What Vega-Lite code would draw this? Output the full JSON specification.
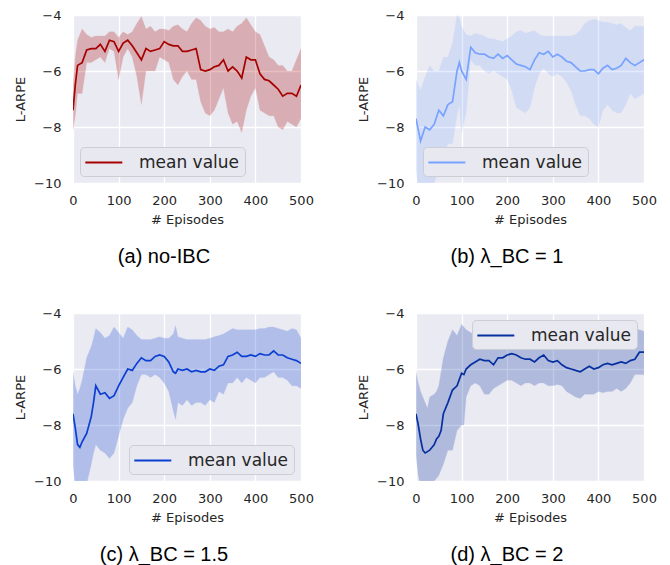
{
  "$schema": "https://vega.github.io/schema/vega-lite/v6.json",
  "background": "white",
  "padding": {"left": 14, "top": 9, "right": 5, "bottom": 2},
  "config": {
    "view": {"fill": "#EAEAF2", "stroke": null},
    "axis": {"grid": true, "gridColor": "white", "gridWidth": 1.3, "domain": false, "ticks": false, "labelFlush": false, "labelFont": "DejaVu Sans", "labelFontSize": 13, "labelColor": "#262626", "titleFont": "DejaVu Sans", "titleFontSize": 13, "titleFontWeight": "normal", "titleColor": "#262626"},
    "axisX": {"labelPadding": 11, "titlePadding": 6},
    "axisY": {"labelPadding": 12, "titlePadding": 6},
    "legend": {"title": null, "symbolType": "M-1.1,0H2.9", "symbolSize": 342, "symbolStrokeWidth": 2, "labelFontSize": 17, "labelFont": "DejaVu Sans", "labelColor": "#262626", "padding": 5, "fillColor": "#E8E8F0", "strokeColor": "#CDCDD5", "cornerRadius": 4, "labelOffset": 33, "offset": 7},
    "title": {"font": "Liberation Sans", "fontSize": 20, "fontWeight": "normal", "color": "black", "orient": "bottom", "anchor": "middle", "frame": "bounds", "offset": 21}
  },
  "datasets": {
    "a": [
      {"x":0,"m":-7.4,"lo":-8.1,"hi":-6.5},{"x":5,"m":-6.5,"lo":-7.6,"hi":-5.5},{"x":10,"m":-5.8,"lo":-6.8,"hi":-4.9},{"x":20,"m":-5.7,"lo":-6.8,"hi":-4.5},{"x":30,"m":-5.25,"lo":-5.7,"hi":-4.7},{"x":40,"m":-5.2,"lo":-5.7,"hi":-4.8},{"x":50,"m":-5.2,"lo":-5.6,"hi":-4.75},{"x":60,"m":-5.05,"lo":-5.5,"hi":-4.75},{"x":70,"m":-5.3,"lo":-5.7,"hi":-4.75},{"x":80,"m":-4.9,"lo":-5.2,"hi":-4.6},{"x":90,"m":-4.95,"lo":-5.3,"hi":-4.6},{"x":100,"m":-5.3,"lo":-6.3,"hi":-4.8},{"x":110,"m":-5.0,"lo":-5.5,"hi":-4.6},{"x":120,"m":-4.9,"lo":-5.2,"hi":-4.7},{"x":130,"m":-5.1,"lo":-5.5,"hi":-4.6},{"x":140,"m":-5.35,"lo":-6.2,"hi":-4.3},{"x":150,"m":-5.6,"lo":-7.2,"hi":-4.05},{"x":160,"m":-5.2,"lo":-6.0,"hi":-4.5},{"x":170,"m":-5.3,"lo":-6.0,"hi":-4.4},{"x":180,"m":-5.25,"lo":-6.0,"hi":-4.6},{"x":190,"m":-5.2,"lo":-5.5,"hi":-4.5},{"x":200,"m":-4.95,"lo":-5.6,"hi":-4.5},{"x":210,"m":-5.05,"lo":-5.7,"hi":-4.55},{"x":220,"m":-5.1,"lo":-6.3,"hi":-4.4},{"x":230,"m":-5.1,"lo":-6.5,"hi":-4.35},{"x":240,"m":-5.3,"lo":-6.2,"hi":-4.5},{"x":250,"m":-5.3,"lo":-6.0,"hi":-4.6},{"x":260,"m":-5.25,"lo":-6.3,"hi":-4.3},{"x":270,"m":-5.2,"lo":-6.3,"hi":-4.1},{"x":280,"m":-5.95,"lo":-7.1,"hi":-4.2},{"x":290,"m":-6.0,"lo":-7.5,"hi":-4.4},{"x":300,"m":-5.95,"lo":-7.6,"hi":-4.5},{"x":310,"m":-5.85,"lo":-7.4,"hi":-4.45},{"x":320,"m":-5.8,"lo":-7.0,"hi":-4.6},{"x":330,"m":-5.6,"lo":-6.6,"hi":-4.6},{"x":340,"m":-6.0,"lo":-7.5,"hi":-4.5},{"x":350,"m":-5.85,"lo":-7.9,"hi":-4.6},{"x":360,"m":-6.0,"lo":-7.8,"hi":-4.4},{"x":370,"m":-6.25,"lo":-8.2,"hi":-4.3},{"x":380,"m":-5.5,"lo":-7.4,"hi":-4.1},{"x":390,"m":-5.6,"lo":-6.9,"hi":-4.35},{"x":400,"m":-5.6,"lo":-6.6,"hi":-4.6},{"x":410,"m":-6.1,"lo":-7.4,"hi":-4.7},{"x":420,"m":-6.3,"lo":-7.5,"hi":-5.1},{"x":430,"m":-6.35,"lo":-7.6,"hi":-5.5},{"x":440,"m":-6.5,"lo":-7.6,"hi":-5.6},{"x":450,"m":-6.65,"lo":-8.0,"hi":-5.8},{"x":460,"m":-6.9,"lo":-8.1,"hi":-5.8},{"x":470,"m":-6.8,"lo":-7.8,"hi":-6.0},{"x":480,"m":-6.8,"lo":-7.9,"hi":-6.0},{"x":490,"m":-6.9,"lo":-8.0,"hi":-5.6},{"x":500,"m":-6.5,"lo":-7.7,"hi":-5.2}
    ],
    "b": [
      {"x":0,"m":-7.7,"lo":-9.5,"hi":-6.3},{"x":5,"m":-8.1,"lo":-10.2,"hi":-6.5},{"x":10,"m":-8.5,"lo":-10.4,"hi":-6.7},{"x":20,"m":-8.0,"lo":-10.3,"hi":-6.2},{"x":30,"m":-8.1,"lo":-10.4,"hi":-5.8},{"x":40,"m":-7.9,"lo":-10.0,"hi":-6.0},{"x":50,"m":-7.4,"lo":-9.5,"hi":-6.0},{"x":60,"m":-7.6,"lo":-9.0,"hi":-5.5},{"x":70,"m":-7.2,"lo":-8.6,"hi":-5.5},{"x":80,"m":-7.1,"lo":-8.6,"hi":-5.0},{"x":90,"m":-6.0,"lo":-7.6,"hi":-4.0},{"x":95,"m":-5.7,"lo":-7.2,"hi":-4.1},{"x":100,"m":-6.0,"lo":-8.2,"hi":-4.4},{"x":110,"m":-6.3,"lo":-7.5,"hi":-4.7},{"x":120,"m":-5.15,"lo":-5.6,"hi":-4.75},{"x":130,"m":-5.35,"lo":-5.8,"hi":-4.65},{"x":140,"m":-5.4,"lo":-5.8,"hi":-4.7},{"x":150,"m":-5.4,"lo":-6.0,"hi":-4.75},{"x":160,"m":-5.5,"lo":-6.1,"hi":-4.85},{"x":170,"m":-5.55,"lo":-6.0,"hi":-4.85},{"x":180,"m":-5.4,"lo":-6.1,"hi":-4.9},{"x":190,"m":-5.55,"lo":-6.2,"hi":-4.95},{"x":200,"m":-5.45,"lo":-6.3,"hi":-4.85},{"x":210,"m":-5.6,"lo":-6.7,"hi":-4.75},{"x":220,"m":-5.75,"lo":-7.3,"hi":-4.6},{"x":230,"m":-5.8,"lo":-7.4,"hi":-4.55},{"x":240,"m":-5.85,"lo":-7.5,"hi":-4.65},{"x":250,"m":-5.95,"lo":-7.3,"hi":-4.6},{"x":260,"m":-5.6,"lo":-6.6,"hi":-4.55},{"x":270,"m":-5.35,"lo":-6.1,"hi":-4.7},{"x":280,"m":-5.4,"lo":-5.9,"hi":-4.75},{"x":290,"m":-5.3,"lo":-6.1,"hi":-4.75},{"x":300,"m":-5.5,"lo":-6.2,"hi":-4.75},{"x":310,"m":-5.4,"lo":-6.1,"hi":-4.75},{"x":320,"m":-5.5,"lo":-6.2,"hi":-4.75},{"x":330,"m":-5.65,"lo":-6.4,"hi":-4.75},{"x":340,"m":-5.7,"lo":-6.7,"hi":-4.75},{"x":350,"m":-5.85,"lo":-7.2,"hi":-4.7},{"x":360,"m":-6.0,"lo":-7.6,"hi":-4.55},{"x":370,"m":-6.0,"lo":-7.6,"hi":-4.3},{"x":380,"m":-5.95,"lo":-7.7,"hi":-4.2},{"x":390,"m":-5.95,"lo":-7.9,"hi":-4.15},{"x":400,"m":-6.1,"lo":-8.0,"hi":-4.2},{"x":410,"m":-5.9,"lo":-7.4,"hi":-4.25},{"x":420,"m":-5.8,"lo":-7.2,"hi":-4.25},{"x":430,"m":-5.95,"lo":-7.4,"hi":-4.3},{"x":440,"m":-5.9,"lo":-7.5,"hi":-4.35},{"x":450,"m":-5.8,"lo":-7.5,"hi":-4.3},{"x":460,"m":-5.55,"lo":-7.2,"hi":-4.45},{"x":470,"m":-5.7,"lo":-6.8,"hi":-4.55},{"x":480,"m":-5.8,"lo":-7.0,"hi":-4.4},{"x":490,"m":-5.7,"lo":-6.9,"hi":-4.4},{"x":500,"m":-5.6,"lo":-6.8,"hi":-4.4}
    ],
    "c": [
      {"x":0,"m":-7.6,"lo":-9.4,"hi":-6.1},{"x":5,"m":-8.1,"lo":-10.2,"hi":-6.6},{"x":10,"m":-8.7,"lo":-10.6,"hi":-6.9},{"x":15,"m":-8.8,"lo":-10.5,"hi":-6.7},{"x":20,"m":-8.6,"lo":-10.4,"hi":-6.4},{"x":30,"m":-8.3,"lo":-10.1,"hi":-5.6},{"x":40,"m":-7.7,"lo":-9.4,"hi":-5.2},{"x":45,"m":-7.2,"lo":-9.0,"hi":-4.9},{"x":50,"m":-6.6,"lo":-8.7,"hi":-4.55},{"x":60,"m":-6.9,"lo":-8.9,"hi":-4.7},{"x":70,"m":-6.85,"lo":-9.0,"hi":-4.9},{"x":80,"m":-7.05,"lo":-9.2,"hi":-4.8},{"x":90,"m":-6.95,"lo":-9.0,"hi":-4.5},{"x":100,"m":-6.6,"lo":-8.4,"hi":-4.7},{"x":110,"m":-6.3,"lo":-7.8,"hi":-4.9},{"x":120,"m":-6.0,"lo":-7.4,"hi":-4.5},{"x":130,"m":-6.05,"lo":-7.2,"hi":-4.6},{"x":140,"m":-5.8,"lo":-6.6,"hi":-4.8},{"x":150,"m":-5.6,"lo":-6.2,"hi":-4.95},{"x":160,"m":-5.7,"lo":-6.2,"hi":-4.95},{"x":170,"m":-5.7,"lo":-6.3,"hi":-4.95},{"x":180,"m":-5.55,"lo":-6.2,"hi":-4.9},{"x":190,"m":-5.5,"lo":-6.3,"hi":-4.85},{"x":200,"m":-5.55,"lo":-6.5,"hi":-4.9},{"x":210,"m":-5.75,"lo":-6.8,"hi":-4.9},{"x":220,"m":-6.1,"lo":-7.5,"hi":-4.75},{"x":225,"m":-6.15,"lo":-7.8,"hi":-4.45},{"x":230,"m":-6.0,"lo":-7.2,"hi":-4.85},{"x":240,"m":-6.05,"lo":-7.3,"hi":-4.9},{"x":250,"m":-6.0,"lo":-7.1,"hi":-4.95},{"x":260,"m":-6.1,"lo":-7.3,"hi":-4.95},{"x":270,"m":-6.05,"lo":-7.2,"hi":-4.95},{"x":280,"m":-6.1,"lo":-7.2,"hi":-4.95},{"x":290,"m":-6.1,"lo":-7.3,"hi":-4.95},{"x":300,"m":-6.0,"lo":-7.1,"hi":-4.9},{"x":310,"m":-6.05,"lo":-7.2,"hi":-4.85},{"x":320,"m":-5.9,"lo":-6.8,"hi":-4.8},{"x":330,"m":-5.85,"lo":-6.9,"hi":-4.75},{"x":340,"m":-5.55,"lo":-6.5,"hi":-4.65},{"x":350,"m":-5.5,"lo":-6.5,"hi":-4.55},{"x":360,"m":-5.4,"lo":-6.3,"hi":-4.6},{"x":370,"m":-5.55,"lo":-6.5,"hi":-4.6},{"x":380,"m":-5.55,"lo":-6.3,"hi":-4.6},{"x":390,"m":-5.5,"lo":-6.4,"hi":-4.6},{"x":400,"m":-5.55,"lo":-6.5,"hi":-4.6},{"x":410,"m":-5.45,"lo":-6.3,"hi":-4.55},{"x":420,"m":-5.5,"lo":-6.3,"hi":-4.55},{"x":430,"m":-5.5,"lo":-6.2,"hi":-4.5},{"x":440,"m":-5.35,"lo":-6.1,"hi":-4.5},{"x":450,"m":-5.5,"lo":-6.3,"hi":-4.55},{"x":460,"m":-5.5,"lo":-6.3,"hi":-4.6},{"x":470,"m":-5.6,"lo":-6.4,"hi":-4.65},{"x":480,"m":-5.65,"lo":-6.6,"hi":-4.55},{"x":490,"m":-5.7,"lo":-6.6,"hi":-4.6},{"x":500,"m":-5.8,"lo":-6.7,"hi":-4.9}
    ],
    "d": [
      {"x":0,"m":-7.6,"lo":-9.1,"hi":-6.1},{"x":5,"m":-8.0,"lo":-9.8,"hi":-6.5},{"x":10,"m":-8.5,"lo":-10.2,"hi":-6.8},{"x":15,"m":-8.9,"lo":-10.3,"hi":-7.0},{"x":20,"m":-9.0,"lo":-10.3,"hi":-7.2},{"x":25,"m":-8.95,"lo":-10.3,"hi":-7.4},{"x":30,"m":-8.9,"lo":-10.2,"hi":-7.0},{"x":40,"m":-8.7,"lo":-10.0,"hi":-6.9},{"x":45,"m":-8.5,"lo":-9.9,"hi":-6.8},{"x":50,"m":-8.4,"lo":-9.8,"hi":-6.6},{"x":55,"m":-8.2,"lo":-9.6,"hi":-6.1},{"x":60,"m":-7.6,"lo":-9.4,"hi":-5.6},{"x":70,"m":-7.2,"lo":-8.9,"hi":-5.0},{"x":80,"m":-6.75,"lo":-8.9,"hi":-4.6},{"x":90,"m":-6.6,"lo":-8.2,"hi":-4.8},{"x":100,"m":-6.15,"lo":-8.0,"hi":-4.4},{"x":105,"m":-6.2,"lo":-8.0,"hi":-4.5},{"x":110,"m":-6.0,"lo":-7.0,"hi":-4.6},{"x":120,"m":-5.85,"lo":-6.6,"hi":-4.7},{"x":130,"m":-5.75,"lo":-6.5,"hi":-4.8},{"x":140,"m":-5.65,"lo":-6.6,"hi":-4.9},{"x":150,"m":-5.7,"lo":-6.9,"hi":-4.9},{"x":160,"m":-5.7,"lo":-6.9,"hi":-4.9},{"x":170,"m":-5.85,"lo":-6.7,"hi":-4.85},{"x":180,"m":-5.6,"lo":-6.6,"hi":-4.8},{"x":190,"m":-5.6,"lo":-6.5,"hi":-4.7},{"x":200,"m":-5.5,"lo":-6.4,"hi":-4.6},{"x":210,"m":-5.45,"lo":-6.4,"hi":-4.55},{"x":220,"m":-5.5,"lo":-6.5,"hi":-4.6},{"x":230,"m":-5.6,"lo":-6.6,"hi":-4.65},{"x":240,"m":-5.65,"lo":-6.5,"hi":-4.7},{"x":250,"m":-5.65,"lo":-6.5,"hi":-4.75},{"x":260,"m":-5.75,"lo":-6.6,"hi":-4.8},{"x":270,"m":-5.6,"lo":-6.5,"hi":-4.75},{"x":280,"m":-5.5,"lo":-6.5,"hi":-4.7},{"x":290,"m":-5.7,"lo":-6.6,"hi":-4.8},{"x":300,"m":-5.75,"lo":-6.6,"hi":-4.9},{"x":310,"m":-5.7,"lo":-6.55,"hi":-4.95},{"x":320,"m":-5.85,"lo":-6.6,"hi":-5.0},{"x":330,"m":-5.95,"lo":-6.8,"hi":-5.0},{"x":340,"m":-6.0,"lo":-6.9,"hi":-5.1},{"x":350,"m":-6.05,"lo":-7.0,"hi":-5.2},{"x":360,"m":-6.1,"lo":-7.05,"hi":-5.2},{"x":370,"m":-6.0,"lo":-6.9,"hi":-5.1},{"x":380,"m":-5.9,"lo":-6.9,"hi":-5.05},{"x":390,"m":-6.0,"lo":-6.9,"hi":-5.1},{"x":400,"m":-5.95,"lo":-6.8,"hi":-5.1},{"x":410,"m":-5.85,"lo":-6.85,"hi":-5.0},{"x":420,"m":-5.8,"lo":-6.8,"hi":-5.0},{"x":430,"m":-5.85,"lo":-6.8,"hi":-4.95},{"x":440,"m":-5.8,"lo":-6.7,"hi":-4.95},{"x":450,"m":-5.75,"lo":-6.8,"hi":-4.9},{"x":460,"m":-5.8,"lo":-6.7,"hi":-4.9},{"x":470,"m":-5.7,"lo":-6.5,"hi":-4.95},{"x":480,"m":-5.65,"lo":-6.2,"hi":-4.6},{"x":490,"m":-5.4,"lo":-6.2,"hi":-4.6},{"x":500,"m":-5.4,"lo":-6.2,"hi":-4.65}
    ]
  },
  "columns": 2,
  "spacing": {"row": 40, "column": 43},
  "resolve": {"scale": {"color": "independent"}, "legend": {"color": "independent"}},
  "concat": [
    {
      "data": {"name": "a"},
      "width": 228, "height": 168,
      "title": {"text": "(a) no-IBC"},
      "encoding": {
        "x": {"field": "x", "type": "quantitative", "scale": {"domain": [0, 500], "nice": false}, "axis": {"title": "# Episodes", "values": [0, 100, 200, 300, 400, 500]}}
      },
      "layer": [
        {"mark": {"type": "area", "clip": true, "color": "#A60000", "opacity": 0.25, "stroke": "#A60000", "strokeOpacity": 0.3, "strokeWidth": 0.8},
         "encoding": {"y": {"field": "hi", "type": "quantitative", "scale": {"domain": [-10, -4], "nice": false}, "axis": {"title": "L-ARPE", "values": [-10, -8, -6, -4]}}, "y2": {"field": "lo"}}},
        {"mark": {"type": "line", "clip": true, "strokeWidth": 1.7},
         "encoding": {"y": {"field": "m", "type": "quantitative"}, "color": {"datum": "mean value", "type": "nominal", "scale": {"range": ["#A60000"]}, "legend": {"orient": "bottom-left"}}}}
      ]
    },
    {
      "data": {"name": "b"},
      "width": 228, "height": 168,
      "title": {"text": "(b) λ_BC = 1"},
      "encoding": {
        "x": {"field": "x", "type": "quantitative", "scale": {"domain": [0, 500], "nice": false}, "axis": {"title": "# Episodes", "values": [0, 100, 200, 300, 400, 500]}}
      },
      "layer": [
        {"mark": {"type": "area", "clip": true, "color": "#78A2FF", "opacity": 0.2, "stroke": "#78A2FF", "strokeOpacity": 0.25, "strokeWidth": 0.8},
         "encoding": {"y": {"field": "hi", "type": "quantitative", "scale": {"domain": [-10, -4], "nice": false}, "axis": {"title": "L-ARPE", "values": [-10, -8, -6, -4]}}, "y2": {"field": "lo"}}},
        {"mark": {"type": "line", "clip": true, "strokeWidth": 1.7},
         "encoding": {"y": {"field": "m", "type": "quantitative"}, "color": {"datum": "mean value", "type": "nominal", "scale": {"range": ["#78A2FF"]}, "legend": {"orient": "bottom-left"}}}}
      ]
    },
    {
      "data": {"name": "c"},
      "width": 228, "height": 168,
      "title": {"text": "(c) λ_BC = 1.5"},
      "encoding": {
        "x": {"field": "x", "type": "quantitative", "scale": {"domain": [0, 500], "nice": false}, "axis": {"title": "# Episodes", "values": [0, 100, 200, 300, 400, 500]}}
      },
      "layer": [
        {"mark": {"type": "area", "clip": true, "color": "#0B3FD1", "opacity": 0.25, "stroke": "#0B3FD1", "strokeOpacity": 0.3, "strokeWidth": 0.8},
         "encoding": {"y": {"field": "hi", "type": "quantitative", "scale": {"domain": [-10, -4], "nice": false}, "axis": {"title": "L-ARPE", "values": [-10, -8, -6, -4]}}, "y2": {"field": "lo"}}},
        {"mark": {"type": "line", "clip": true, "strokeWidth": 1.7},
         "encoding": {"y": {"field": "m", "type": "quantitative"}, "color": {"datum": "mean value", "type": "nominal", "scale": {"range": ["#0B3FD1"]}, "legend": {"orient": "bottom-right"}}}}
      ]
    },
    {
      "data": {"name": "d"},
      "width": 228, "height": 168,
      "title": {"text": "(d) λ_BC = 2"},
      "encoding": {
        "x": {"field": "x", "type": "quantitative", "scale": {"domain": [0, 500], "nice": false}, "axis": {"title": "# Episodes", "values": [0, 100, 200, 300, 400, 500]}}
      },
      "layer": [
        {"mark": {"type": "area", "clip": true, "color": "#06309F", "opacity": 0.25, "stroke": "#06309F", "strokeOpacity": 0.3, "strokeWidth": 0.8},
         "encoding": {"y": {"field": "hi", "type": "quantitative", "scale": {"domain": [-10, -4], "nice": false}, "axis": {"title": "L-ARPE", "values": [-10, -8, -6, -4]}}, "y2": {"field": "lo"}}},
        {"mark": {"type": "line", "clip": true, "strokeWidth": 1.7},
         "encoding": {"y": {"field": "m", "type": "quantitative"}, "color": {"datum": "mean value", "type": "nominal", "scale": {"range": ["#06309F"]}, "legend": {"orient": "top-right"}}}}
      ]
    }
  ]
}
